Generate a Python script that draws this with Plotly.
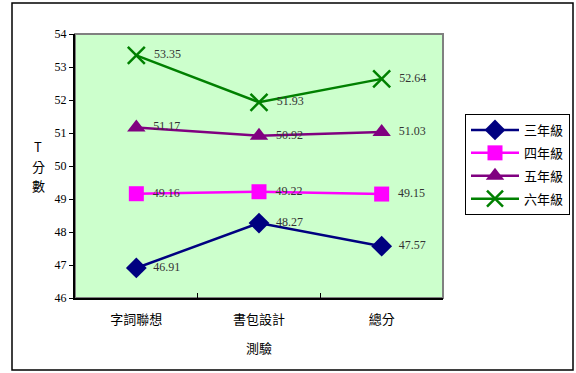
import plotly.graph_objects as go

categories = ["字詞聯想", "書包設計", "總分"]
series_names = ["三年級", "四年級", "五年級", "六年級"]
g3 = [46.91, 48.27, 47.57]
g4 = [49.16, 49.22, 49.15]
g5 = [51.17, 50.92, 51.03]
g6 = [53.35, 51.93, 52.64]
y_ticks = [46, 47, 48, 49, 50, 51, 52, 53, 54]

colors = ["#000080", "#FF00FF", "#800080", "#008000"]
symbols = ["diamond", "square", "triangle-up", "x-thin"]
sizes = [16, 15, 16, 17]

W, H = 576, 373
L, R, T, B = 75, 443, 34, 298

fig = go.Figure()
for name, vals, c, s, sz in zip(series_names, [g3, g4, g5, g6], colors, symbols, sizes):
    marker = dict(symbol=s, size=sz, color=c)
    if s == "x-thin":
        marker = dict(symbol=s, size=sz, color=c, line=dict(color=c, width=2.5))
    fig.add_trace(go.Scatter(
        x=categories, y=vals, name=name, mode="lines+markers+text",
        legendgroup=name,
        line=dict(color=c, width=2.5), marker=marker,
        text=["\u00a0\u00a0" + f"{v:.2f}" for v in vals], textposition="middle right",
        textfont=dict(family="Liberation Serif", size=12, color="#333333"),
        cliponaxis=False,
    ))

def px2x(px):
    return (px - L) / (R - L)

def py2y(py):
    return (B - py) / (B - T)

fig.add_shape(type="rect", xref="paper", yref="paper", x0=0, x1=1, y0=0, y1=1,
              line=dict(color="#808080", width=2), fillcolor="rgba(0,0,0,0)", layer="below")
fig.add_shape(type="rect", xref="paper", yref="paper", x0=px2x(12), x1=px2x(573),
              y0=py2y(370), y1=py2y(3), line=dict(color="#000000", width=1.5))

for ch, py in zip(["T", "分", "數"], [146, 166, 186]):
    fig.add_annotation(text=ch, xref="paper", yref="paper", x=px2x(38), y=py2y(py),
                       xanchor="center", yanchor="middle",
                       showarrow=False, font=dict(family="Noto Sans CJK TC", size=13, color="#000000"))
fig.add_annotation(text="測驗", xref="paper", yref="paper", x=px2x(259), y=py2y(347),
                   xanchor="center", yanchor="middle",
                   showarrow=False, font=dict(family="Noto Sans CJK TC", size=13, color="#000000"))

fig.update_layout(
    width=W, height=H,
    margin=dict(l=L, r=W - R, t=T, b=H - B, autoexpand=False),
    paper_bgcolor="white", plot_bgcolor="#CCFFCC",
    showlegend=True,
    legend=dict(x=px2x(465), y=py2y(114), xanchor="left", yanchor="top",
                bordercolor="#000000", borderwidth=1, bgcolor="white",
                font=dict(family="Noto Sans CJK TC", size=13, color="#000000"),
                tracegroupgap=3, itemwidth=48),
    font=dict(family="Liberation Serif", size=12, color="#000000"),
)
fig.update_xaxes(
    type="category", range=[-0.5, 2.5], showgrid=False, showline=True,
    linecolor="#000000", linewidth=2, ticks="inside", tickson="boundaries",
    ticklen=5, tickcolor="#000000", automargin=False, ticklabelstandoff=8,
    tickfont=dict(family="Noto Sans CJK TC", size=13, color="#000000"),
)
fig.update_yaxes(
    range=[46, 54], tickvals=y_ticks, showgrid=False, zeroline=False, showline=True,
    linecolor="#000000", linewidth=2, ticks="outside", ticklen=4, tickcolor="#000000",
    automargin=False,
    tickfont=dict(family="Liberation Serif", size=12, color="#000000"),
)

fig.write_html("out.html")
